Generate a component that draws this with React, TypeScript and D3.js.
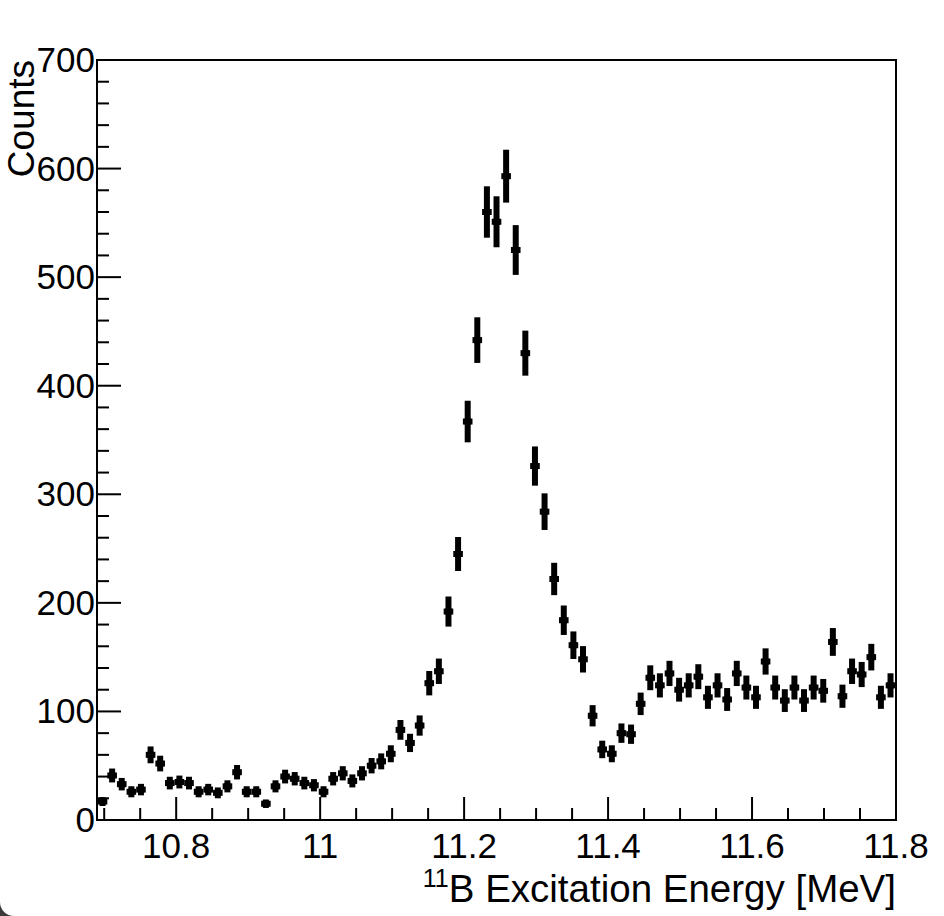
import React from "react";
import * as d3 from "d3";

// Histogram: 11B excitation energy spectrum
const binLow = 10.691;
const binWidth = 0.01335;
const counts = [
  17, 41, 33, 26, 28, 60, 52, 34, 35, 34,
  26, 28, 25, 31, 44, 26, 26, 15, 31, 40,
  38, 34, 32, 26, 38, 43, 36, 43, 50, 54,
  61, 83, 71, 87, 126, 137, 192, 245, 367, 442,
  560, 551, 593, 525, 430, 326, 284, 222, 184, 161,
  148, 96, 65, 61, 80, 79, 107, 131, 124, 135,
  120, 124, 132, 113, 124, 111, 135, 122, 113, 146,
  122, 110, 122, 110, 122, 119, 164, 114, 137, 134,
  150, 113, 124,
];
const xMajorTicks = [10.8, 11.0, 11.2, 11.4, 11.6, 11.8];
const xMajorLabels = ["10.8", "11", "11.2", "11.4", "11.6", "11.8"];
const yMajorTicks = [0, 100, 200, 300, 400, 500, 600, 700];
const xDomain = [10.69, 11.8];
const yDomain = [0, 700];
const xTitleSup = "11";
const xTitleMain = "B Excitation Energy [MeV]";
const yTitle = "Counts";

const W = 944;
const H = 916;
const L = 97, R = 896, T = 60, B = 820;
const FONT = "'Liberation Sans', Arial, Helvetica, sans-serif";

export default function App() {
  const x = d3.scaleLinear().domain(xDomain).range([L, R]);
  const y = d3.scaleLinear().domain(yDomain).range([B, T]);

  const xMinor: number[] = [];
  for (let v = 10.7; v <= 11.8001; v += 0.05) {
    const r = Math.round(v * 100) / 100;
    if (!xMajorTicks.some((m) => Math.abs(m - r) < 1e-6)) xMinor.push(r);
  }
  const yMinor: number[] = [];
  for (let v = 0; v <= 700; v += 20) {
    if (v % 100 !== 0) yMinor.push(v);
  }

  const points = counts.map((c, i) => ({
    xc: binLow + (i + 0.5) * binWidth,
    x0: binLow + i * binWidth,
    x1: binLow + (i + 1) * binWidth,
    c,
    e: Math.sqrt(c),
  }));

  return (
    <svg
      width={W}
      height={H}
      style={{ position: "absolute", left: 0, top: 0, background: "#fff" }}
    >
      <rect x={0} y={0} width={W} height={H} fill="#fff" />
      {/* points with error bars */}
      <g>
        {points.map((p, i) => (
          <g key={i}>
            <line
              x1={x(p.xc)}
              x2={x(p.xc)}
              y1={y(Math.max(0, p.c - p.e))}
              y2={y(p.c + p.e)}
              stroke="#000"
              strokeWidth={6}
            />
            <line
              x1={x(p.x0)}
              x2={x(p.x1)}
              y1={y(p.c)}
              y2={y(p.c)}
              stroke="#000"
              strokeWidth={6}
            />
            <circle cx={x(p.xc)} cy={y(p.c)} r={4} fill="#000" />
          </g>
        ))}
      </g>
      {/* frame */}
      <rect x={L} y={T} width={R - L} height={B - T} fill="none" stroke="#000" strokeWidth={2} />
      {/* x ticks */}
      {xMajorTicks.map((t) => (
        <line key={"xM" + t} x1={x(t)} x2={x(t)} y1={B} y2={B - 23} stroke="#000" strokeWidth={2} />
      ))}
      {xMinor.map((t) => (
        <line key={"xm" + t} x1={x(t)} x2={x(t)} y1={B} y2={B - 12} stroke="#000" strokeWidth={2} />
      ))}
      {/* y ticks */}
      {yMajorTicks.map((t) => (
        <line key={"yM" + t} x1={L} x2={L + 24} y1={y(t)} y2={y(t)} stroke="#000" strokeWidth={2} />
      ))}
      {yMinor.map((t) => (
        <line key={"ym" + t} x1={L} x2={L + 12} y1={y(t)} y2={y(t)} stroke="#000" strokeWidth={2} />
      ))}
      {/* tick labels */}
      {xMajorTicks.map((t, i) => (
        <text
          key={"xl" + t}
          x={x(t)}
          y={858}
          textAnchor="middle"
          fontFamily={FONT}
          fontSize={35}
          fill="#000"
        >
          {xMajorLabels[i]}
        </text>
      ))}
      {yMajorTicks.map((t) => (
        <text
          key={"yl" + t}
          x={L - 2}
          y={y(t) + 12}
          textAnchor="end"
          fontFamily={FONT}
          fontSize={35}
          fill="#000"
        >
          {String(t)}
        </text>
      ))}
      {/* axis titles */}
      <text
        x={R}
        y={902}
        textAnchor="end"
        fontFamily={FONT}
        fontSize={38.5}
        fill="#000"
      >
        <tspan fontSize={25} dy={-15}>{xTitleSup}</tspan>
        <tspan dy={15}>{xTitleMain}</tspan>
      </text>
      <text
        transform={`translate(34, ${T}) rotate(-90)`}
        textAnchor="end"
        fontFamily={FONT}
        fontSize={37}
        fill="#000"
      >
        {yTitle}
      </text>
      {/* screenshot corner */}
      <path d={`M0,${H - 14} A14,14 0 0 0 14,${H} L0,${H} Z`} fill="#3a3a3a" />
    </svg>
  );
}
